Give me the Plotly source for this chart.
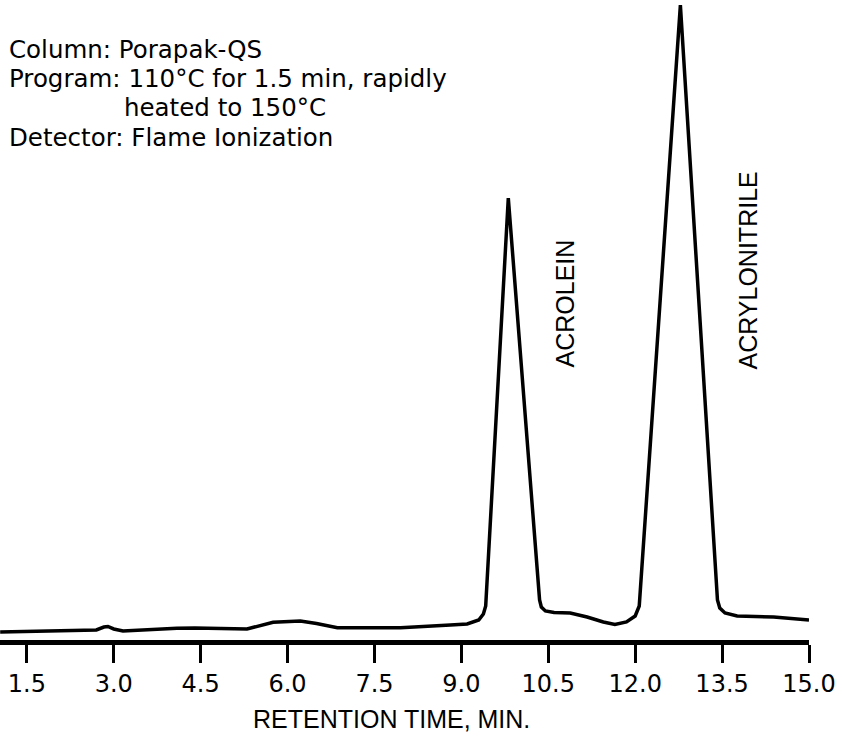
import plotly.graph_objects as go

# Retention time (min) and detector response (arbitrary units, tallest peak = 100)
retention_time = [1.04, 1.90, 2.70, 2.83, 2.90, 3.00, 3.16, 4.09, 4.40, 5.30, 5.55, 5.75,
                  6.22, 6.50, 6.86, 7.95, 8.81, 9.10, 9.30, 9.38, 9.42, 9.81, 10.35, 10.38,
                  10.45, 10.60, 10.88, 11.17, 11.45, 11.65, 11.85, 12.00, 12.07, 12.78, 13.42,
                  13.46, 13.55, 13.76, 14.39, 15.00]
response = [1.57, 1.73, 1.88, 2.35, 2.43, 2.04, 1.73, 2.14, 2.20, 2.04, 2.67, 3.09,
            3.30, 2.90, 2.24, 2.24, 2.67, 2.83, 3.45, 4.40, 5.65, 69.70, 6.59, 5.49,
            4.87, 4.63, 4.55, 3.92, 3.14, 2.75, 3.14, 4.08, 5.65, 100.0, 6.59,
            5.34, 4.55, 4.08, 3.92, 3.45]

tick_values = [1.5, 3.0, 4.5, 6.0, 7.5, 9.0, 10.5, 12.0, 13.5, 15.0]
tick_labels = ["1.5", "3.0", "4.5", "6.0", "7.5", "9.0", "10.5", "12.0", "13.5", "15.0"]

peak_names = ["ACROLEIN", "ACRYLONITRILE"]
peak_label_x = [10.78, 13.94]
peak_label_y = [42.7, 42.4]

info_lines = ["Column: Porapak-QS",
              "Program: 110°C for 1.5 min, rapidly",
              "heated to 150°C",
              "Detector: Flame Ionization"]
info_x = [0.0087, 0.0087, 0.1508, 0.0087]
info_y = [0.9234, 0.8773, 0.8313, 0.7852]

x_title = "RETENTION TIME, MIN."

fig = go.Figure()
fig.add_trace(go.Scatter(x=retention_time, y=response, mode="lines",
                         line=dict(color="black", width=3.5), hoverinfo="skip"))

annotations = []
for name, px, py in zip(peak_names, peak_label_x, peak_label_y):
    annotations.append(dict(x=px, y=py, xref="x", yref="y", text=name, textangle=-90,
                            showarrow=False, xanchor="center", yanchor="bottom",
                            font=dict(family="Liberation Sans, Arial", size=25, color="black")))
for txt, ax, ay in zip(info_lines, info_x, info_y):
    annotations.append(dict(x=ax, y=ay, xref="paper", yref="paper", text=txt,
                            showarrow=False, xanchor="left", yanchor="middle",
                            font=dict(family="DejaVu Sans", size=24.5, color="black")))
annotations.append(dict(x=0.4845, y=-0.1235, xref="paper", yref="paper", text=x_title,
                        showarrow=False, xanchor="center", yanchor="middle",
                        font=dict(family="Liberation Sans, Arial", size=25, color="black")))

fig.update_layout(
    width=842, height=736,
    margin=dict(l=0, r=33, t=0, b=96),
    paper_bgcolor="white", plot_bgcolor="white",
    showlegend=False,
    annotations=annotations,
    xaxis=dict(range=[1.037, 15.0], showgrid=False, zeroline=False,
               showline=True, linecolor="black", linewidth=5,
               ticks="outside", ticklen=18, tickwidth=2.5, tickcolor="black",
               tickvals=tick_values, ticktext=tick_labels,
               tickfont=dict(family="DejaVu Sans", size=24, color="black")),
    yaxis=dict(range=[0.31, 100.79], visible=False, showgrid=False, zeroline=False),
)

fig.write_html("out.html", config={"displayModeBar": False},
               post_script="document.body.style.margin='0px';document.body.style.overflow='hidden';")
